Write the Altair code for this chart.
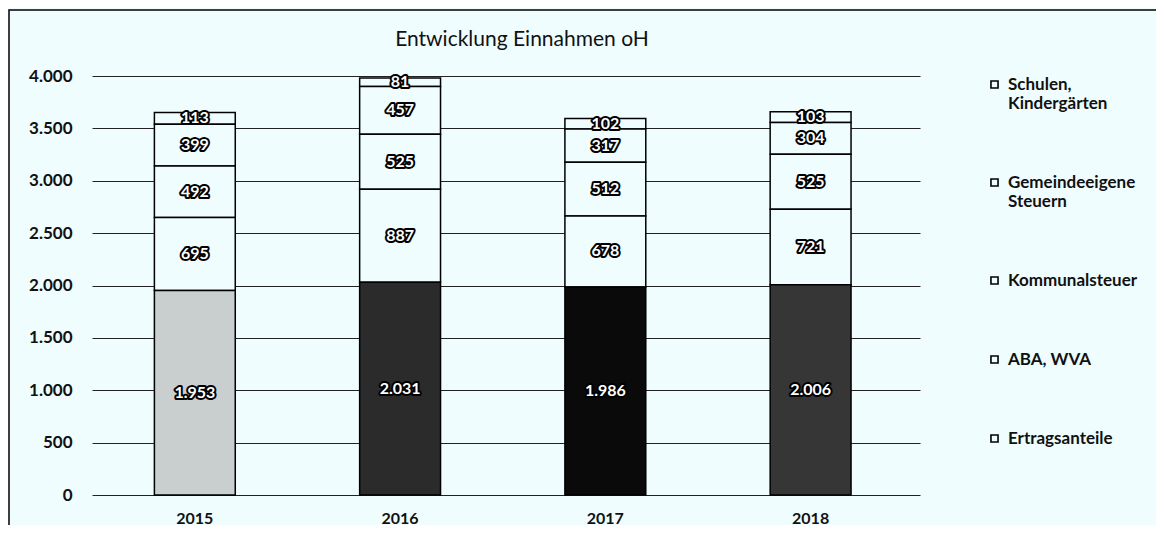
import altair as alt
import pandas as pd

years = ["2015", "2016", "2017", "2018"]
ertragsanteile = [1953, 2031, 1986, 2006]
aba_wva = [695, 887, 678, 721]
kommunalsteuer = [492, 525, 512, 525]
gemeindeeigene = [399, 457, 317, 304]
schulen = [113, 81, 102, 103]

categories = ["Schulen,|Kindergärten", "Gemeindeeigene|Steuern", "Kommunalsteuer", "ABA, WVA", "Ertragsanteile"]
series = [schulen, gemeindeeigene, kommunalsteuer, aba_wva, ertragsanteile]
stack_order = [4, 3, 2, 1, 0]
title_text = "Entwicklung Einnahmen oH"

BG = "#effdff"
bottom_shades = ["#c9cecf", "#2b2b2b", "#0a0a0a", "#363636"]

rows = []
for cat, vals, o in zip(categories, series, stack_order):
    for i, (y, v) in enumerate(zip(years, vals)):
        rows.append({"year": y, "cat": cat, "value": v, "order": o,
                     "shade": bottom_shades[i] if o == 0 else BG})
df = pd.DataFrame(rows)

FONT = "Lato"
FS = 17

base = alt.Chart(df).transform_stack(
    stack="value", groupby=["year"], as_=["y0", "y1"],
    sort=[alt.SortField("order", order="ascending")]
).transform_calculate(
    mid="(datum.y0 + datum.y1) / 2",
    label="replace(format(datum.value, ','), ',', '.')"
)

x_enc = alt.X("year:N", title=None,
              scale=alt.Scale(paddingInner=0.606, paddingOuter=0.32, align=0.475),
              axis=alt.Axis(labelAngle=0, domain=False, ticks=False, labelPadding=15,
                            labelFont=FONT, labelFontSize=16, labelFontWeight="bold",
                            labelColor="#111"))

bars = base.mark_bar(strokeWidth=1.5).encode(
    x=x_enc,
    y=alt.Y("y0:Q", title=None, scale=alt.Scale(domain=[0, 4000], nice=False),
            axis=alt.Axis(values=list(range(0, 4001, 500)), grid=True, gridColor="#222",
                          gridWidth=1, domain=False, ticks=False, labelPadding=20,
                          labelFont=FONT, labelFontSize=FS, labelFontWeight="bold",
                          labelColor="#111",
                          labelExpr="replace(format(datum.value, ','), ',', '.')")),
    y2="y1:Q",
    fill=alt.Fill("shade:N", scale=None),
    stroke=alt.Stroke("cat:N",
                      scale=alt.Scale(domain=categories, range=["#000"] * 5),
                      legend=alt.Legend(title=None, orient="none", legendX=894, legendY=0,
                                        symbolType="square", symbolSize=50,
                                        symbolStrokeWidth=1.6, symbolFillColor=BG,
                                        labelFont=FONT, labelFontSize=FS,
                                        labelFontWeight="bold", labelColor="#111",
                                        labelLimit=250, rowPadding=61, labelOffset=5,
                                        labelExpr="split(datum.label, '|')")),
)

halo = base.mark_text(font=FONT, fontSize=16, fontWeight="bold", fill="#000",
                      stroke="#000", strokeWidth=4, strokeJoin="round").encode(
    x=alt.X("year:N"), y=alt.Y("mid:Q"), text="label:N")
txt = base.mark_text(font=FONT, fontSize=16, fontWeight="bold", fill="#fff").encode(
    x=alt.X("year:N"), y=alt.Y("mid:Q"), text="label:N")

frame = alt.Chart(pd.DataFrame({"a": [0]})).mark_rect(
    fill=None, stroke="#000", strokeWidth=1.5).encode(
    x=alt.value(-83), x2=alt.value(1400), y=alt.value(-66), y2=alt.value(1000))

title = alt.Chart(pd.DataFrame({"t": [title_text]})).mark_text(
    font=FONT, fontSize=21, fontWeight="normal", color="#111",
    align="center", baseline="middle").encode(
    text="t:N", x=alt.value(430), y=alt.value(-36))

chart = alt.layer(frame, bars, halo, txt, title).properties(
    width=828, height=419,
    padding={"left": 84, "top": 68, "right": 236, "bottom": 30},
    autosize=alt.AutoSizeParams(type="none"),
    background=BG,
).configure_view(stroke=None)

chart.save("out.html", embed_options={"renderer": "svg", "actions": False})
